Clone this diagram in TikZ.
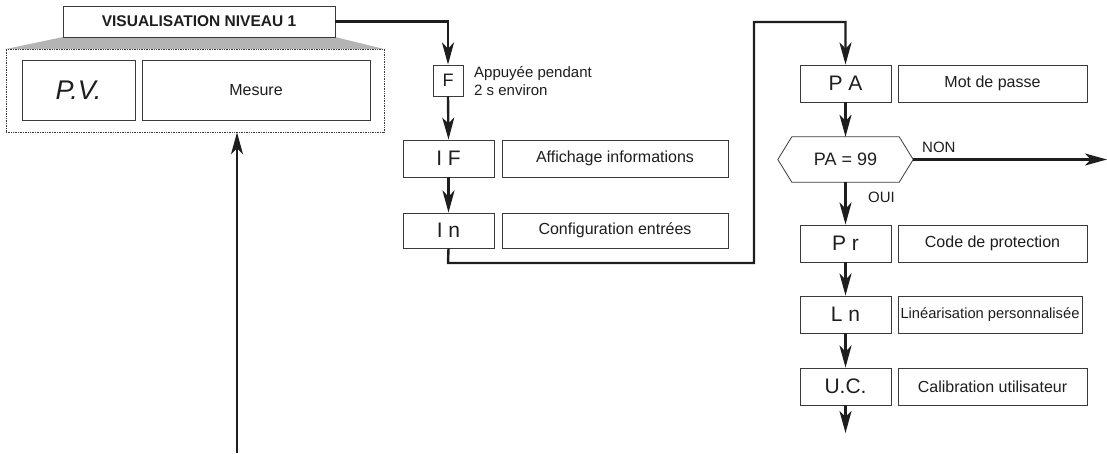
\documentclass[tikz,border=0pt]{standalone}
\usepackage{fontspec}
\setmainfont{Liberation Sans}
\usetikzlibrary{arrows.meta,calc}
\definecolor{ink}{HTML}{1E1E1E}
\definecolor{edge}{HTML}{3A3A3A}
\definecolor{trap}{HTML}{B4B4B4}
\tikzset{
  box/.style={draw=edge,line width=0.9pt,fill=white,inner sep=0pt,text=ink,minimum height=37pt},
  code/.style={box,minimum width=91pt,font=\fontsize{21}{24}\selectfont},
  desc/.style={box,minimum width=189pt,font=\fontsize{16}{19}\selectfont},
  flow/.style={draw=ink,line width=2.4pt,-{Stealth[length=22pt,width=12pt,inset=6pt]}},
  lbl/.style={text=ink,inner sep=0pt,font=\fontsize{15}{18}\selectfont}
}
\begin{document}
\begin{tikzpicture}[x=1pt,y=-1pt]
\useasboundingbox (0,0) rectangle (1107,453);
% gray trapezoid
\fill[trap] (63,37) -- (335,37) -- (384,49) -- (6,49) -- cycle;
% dotted frame
\node[draw=edge,densely dotted,line width=0.7pt,minimum width=378pt,minimum height=83pt,inner sep=0pt] (frame) at (195,90.5) {};
\node[box,minimum width=272pt,minimum height=31pt,font=\bfseries\fontsize{15.5}{18}\selectfont] (title) at (199,21.5) {VISUALISATION NIVEAU 1};
\node[box,minimum width=113pt,minimum height=60pt,font=\itshape\fontsize{27}{30}\selectfont] (pv) at (78.5,90) {P.V.};
\node[box,minimum width=228pt,minimum height=60pt,font=\fontsize{16}{19}\selectfont] (mes) at (256,90) {Mesure};
% left column
\node[box,minimum width=30pt,minimum height=31pt,font=\fontsize{18}{21}\selectfont] (f) at (448,80.5) {F};
\node[lbl,anchor=west,align=left] (fnote) at (474,81.5) {Appuyée pendant\\2 s environ};
\node[code] (if) at (448.5,158.5) {I F};
\node[desc,minimum width=226pt] (ifd) at (615,158.5) {Affichage informations};
\node[code,minimum height=35pt] (in) at (448.5,230.5) {I n};
\node[desc,minimum width=226pt,minimum height=35pt] (ind) at (615,230.5) {Configuration entrées};
% right column
\node[code] (pa) at (845.5,83.5) {P A};
\node[desc] (pad) at (992.5,83.5) {Mot de passe};
\node[inner sep=0pt,minimum width=135pt,minimum height=45pt,text=ink,font=\fontsize{18}{21}\selectfont] (hex) at (845.5,159.5) {PA = 99};
\draw[edge,line width=0.8pt] (hex.west) -- ($(hex.north west)+(14,0)$) -- ($(hex.north east)+(-14,0)$) -- (hex.east) -- ($(hex.south east)+(-14,0)$) -- ($(hex.south west)+(14,0)$) -- cycle;
\node[code] (pr) at (845.5,243.5) {P r};
\node[desc] (prd) at (992.5,243.5) {Code de protection};
\node[code] (ln) at (845.5,314.5) {L n};
\node[desc,minimum width=184pt,font=\fontsize{14.7}{17}\selectfont] (lnd) at (990,314.5) {Linéarisation personnalisée};
\node[code] (uc) at (845.5,386.5) {U.C.};
\node[desc] (ucd) at (992.5,386.5) {Calibration utilisateur};
% coordinates
\coordinate (c1) at (448,21.5);
\coordinate (c2) at (448,263);
\coordinate (c3) at (754,263);
\coordinate (c4) at (754,22);
\coordinate (c5) at (845.5,22);
\coordinate (nonend) at (1107,159.5);
\coordinate (ucend) at (845.5,433);
\coordinate (upstart) at (237,453);
% connectors
\draw[flow] (title.east) -- (c1) -- (f.north);
\draw[flow] (f.south) -- (if.north);
\draw[flow] (if.south) -- (in.north);
\draw[flow] (in.south) -- (c2) -- (c3) -- (c4) -- (c5) -- (pa.north);
\draw[flow] (pa.south) -- (hex.north);
\draw[flow] (hex.east) -- (nonend);
\node[lbl,anchor=south west] (non) at (922,153) {NON};
\draw[flow] (hex.south) -- (pr.north);
\node[lbl,anchor=west] (oui) at (868,197) {OUI};
\draw[flow] (pr.south) -- (ln.north);
\draw[flow] (ln.south) -- (uc.north);
\draw[flow] (uc.south) -- (ucend);
\draw[flow] (upstart) -- (upstart |- frame.south);
\end{tikzpicture}
\end{document}
